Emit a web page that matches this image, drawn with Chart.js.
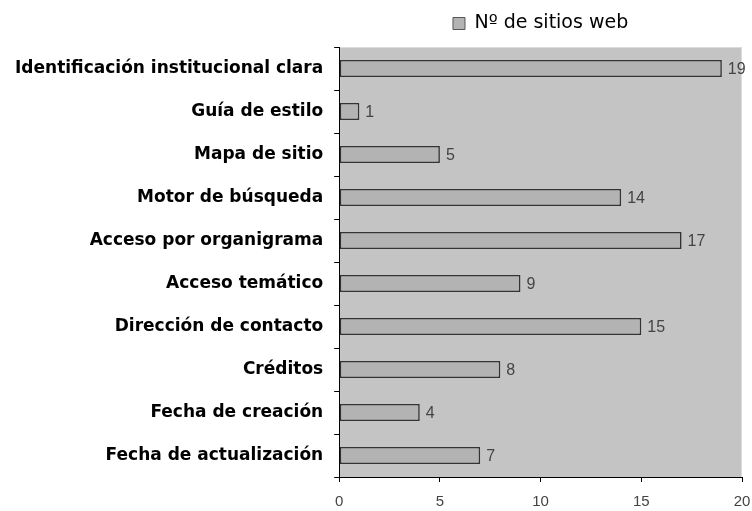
<!DOCTYPE html>
<html>
<head>
<meta charset="utf-8">
<script src="https://cdn.jsdelivr.net/npm/chart.js@4"></script>
<style>
  html, body { margin: 0; padding: 0; background: #fff; }
  #wrap { width: 752px; height: 511px; }
</style>
</head>
<body>
<div id="wrap"><canvas id="chart"></canvas></div>
<script>
// Categories (top to bottom) and counts
const categories = [
    'Identificación institucional clara',
    'Guía de estilo',
    'Mapa de sitio',
    'Motor de búsqueda',
    'Acceso por organigrama',
    'Acceso temático',
    'Dirección de contacto',
    'Créditos',
    'Fecha de creación',
    'Fecha de actualización'
];
const sitios = [19, 1, 5, 14, 17, 9, 15, 8, 4, 7];
const seriesLabel = 'Nº de sitios web';
const xTicks = [0, 5, 10, 15, 20];

const plotBg = '#c4c4c4';
const barFill = '#b3b3b3';
const barEdge = '#333';
const numFont = '"Liberation Sans", Arial, sans-serif';
const textFont = '"DejaVu Sans", Verdana, sans-serif';

// grey plot area, light top/right frame
const plotArea = {
    id: 'plotArea',
    beforeDraw(chart) {
        const { ctx, chartArea: a } = chart;
        ctx.save();
        ctx.fillStyle = plotBg;
        ctx.fillRect(a.left, a.top, a.right - a.left, a.bottom - a.top);
        ctx.strokeStyle = '#dcdcdc';
        ctx.lineWidth = 1;
        ctx.beginPath();
        ctx.moveTo(a.left, a.top + 0.5);
        ctx.lineTo(a.right - 0.5, a.top + 0.5);
        ctx.lineTo(a.right - 0.5, a.bottom);
        ctx.stroke();
        ctx.restore();
    }
};

// a bit more room between legend and plot
const legendGap = {
    id: 'legendGap',
    beforeInit(chart) {
        const fit = chart.legend.fit;
        chart.legend.fit = function () {
            fit.call(this);
            this.height += 4;
        };
    }
};

// value labels at the end of each bar
const valueLabels = {
    id: 'valueLabels',
    afterDatasetsDraw(chart) {
        const { ctx } = chart;
        const meta = chart.getDatasetMeta(0);
        ctx.save();
        ctx.fillStyle = '#444';
        ctx.font = '16px ' + numFont;
        ctx.textBaseline = 'middle';
        meta.data.forEach((bar, i) => {
            ctx.fillText(String(sitios[i]), bar.x + 6, bar.y + 1);
        });
        ctx.restore();
    }
};

new Chart(document.getElementById('chart'), {
    type: 'bar',
    data: {
        labels: categories,
        datasets: [{
            label: seriesLabel,
            data: sitios,
            backgroundColor: barFill,
            borderColor: barEdge,
            borderWidth: 1.6,
            borderSkipped: false,
            categoryPercentage: 1,
            barPercentage: 0.4
        }]
    },
    options: {
        indexAxis: 'y',
        responsive: true,
        maintainAspectRatio: false,
        animation: false,
        layout: { padding: { left: 4, right: 0, top: 4, bottom: 0 } },
        plugins: {
            legend: {
                position: 'top',
                fullSize: false,
                labels: {
                    color: '#111',
                    font: { size: 19, family: textFont },
                    boxWidth: 12,
                    boxHeight: 12,
                    padding: 10,
                    generateLabels() {
                        return [{
                            text: seriesLabel,
                            fillStyle: barFill,
                            strokeStyle: '#555',
                            lineWidth: 1,
                            datasetIndex: 0
                        }];
                    }
                }
            },
            tooltip: { enabled: false }
        },
        scales: {
            x: {
                min: 0,
                max: 20,
                afterBuildTicks(axis) {
                    axis.ticks = xTicks.map(v => ({ value: v }));
                },
                afterFit(axis) {
                    axis.height = 34;
                    axis.paddingRight = 10;
                },
                border: { color: '#000', width: 1 },
                grid: {
                    drawOnChartArea: false,
                    color: '#000',
                    tickLength: 5
                },
                ticks: {
                    color: '#444',
                    padding: 11,
                    font: { size: 15, family: numFont }
                }
            },
            y: {
                border: { color: '#000', width: 1 },
                grid: {
                    offset: true,
                    drawOnChartArea: false,
                    color: '#000',
                    tickLength: 5
                },
                ticks: {
                    color: '#000',
                    padding: 11,
                    font: { size: 17, weight: 'bold', family: textFont }
                }
            }
        }
    },
    plugins: [plotArea, legendGap, valueLabels]
});
</script>
</body>
</html>
